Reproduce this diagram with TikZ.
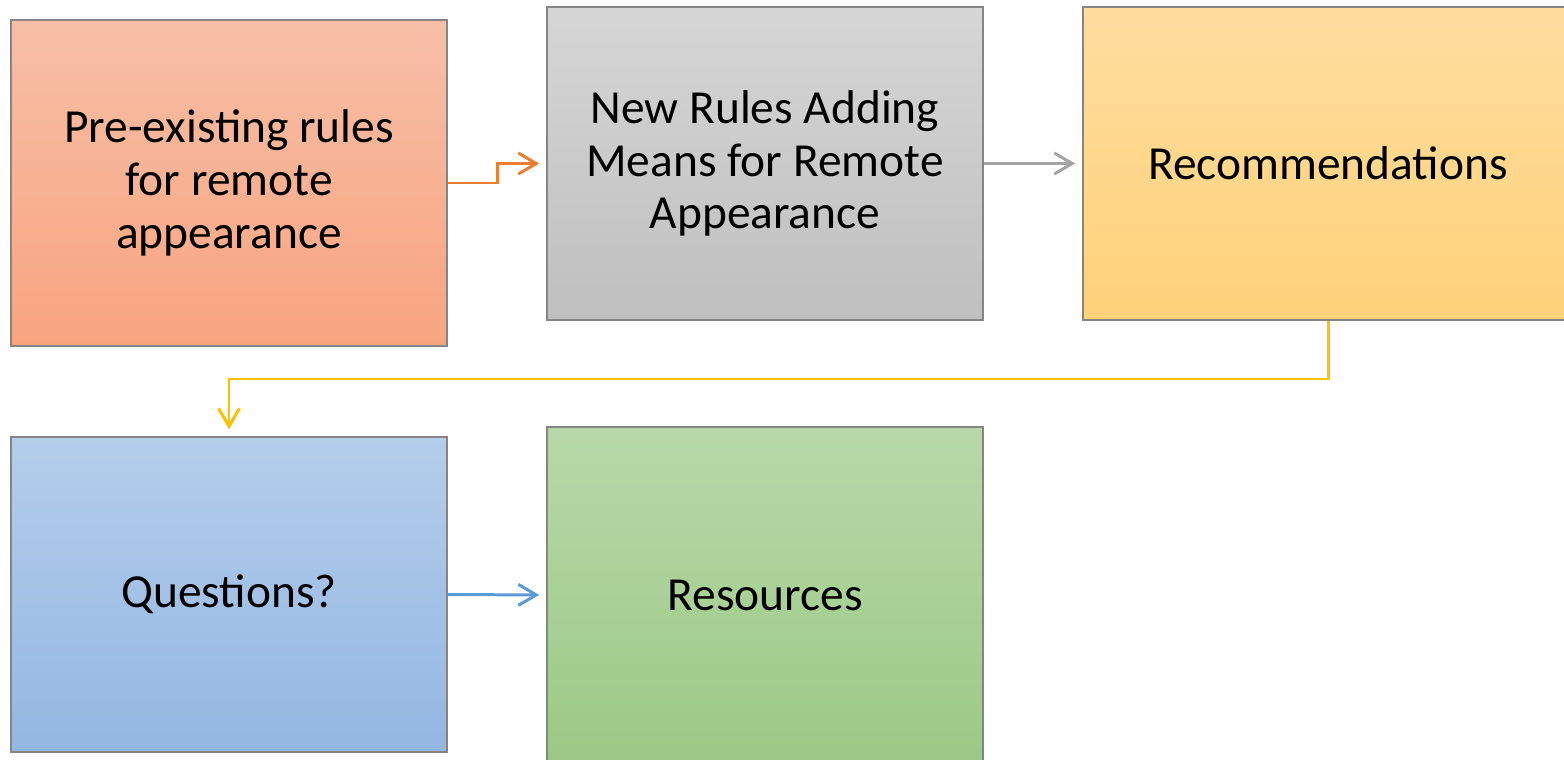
\documentclass[tikz,border=0pt]{standalone}
\usepackage{fontspec}
\setmainfont{Carlito}
\usetikzlibrary{arrows.meta}

\definecolor{orangeTop}{HTML}{F7BFA7}
\definecolor{orangeBot}{HTML}{F8A47F}
\definecolor{grayTop}{HTML}{D6D6D6}
\definecolor{grayBot}{HTML}{BFBFBF}
\definecolor{goldTop}{HTML}{FFDD9F}
\definecolor{goldBot}{HTML}{FFD27A}
\definecolor{blueTop}{HTML}{B4CDEB}
\definecolor{blueBot}{HTML}{93B7E2}
\definecolor{greenTop}{HTML}{B8D8A9}
\definecolor{greenBot}{HTML}{9BC985}
\definecolor{orangeLine}{HTML}{ED7D31}
\definecolor{grayLine}{HTML}{A5A5A5}
\definecolor{goldLine}{HTML}{FFC000}
\definecolor{blueLine}{HTML}{5B9BD5}
\definecolor{boxEdge}{HTML}{858585}

\tikzset{
  stagebox/.style={draw=boxEdge, line width=0.9pt, align=center, inner sep=0pt,
    font=\fontsize{27}{30}\selectfont},
  flowline/.style={line width=1.7pt, -{Straight Barb[length=0.36cm,width=0.42cm]}, shorten >=0.14cm}
}

\begin{document}
\begin{tikzpicture}[x=0.02cm, y=-0.02cm]
    \useasboundingbox (0,0) rectangle (1564,760); % picture frame
    \node [stagebox, top color=orangeTop, bottom color=orangeBot, minimum width=8.72cm, minimum height=6.52cm] (rules) at (229,183) {Pre-existing rules\\for remote\\appearance}; % first box
    \node [stagebox, top color=grayTop, bottom color=grayBot, minimum width=8.72cm, minimum height=6.26cm] (newrules) at (765,163.5) {New Rules Adding\\Means for Remote\\Appearance}; % second box
    \node [stagebox, top color=goldTop, bottom color=goldBot, minimum width=9.8cm, minimum height=6.26cm] (recs) at (1328,163.5) {Recommendations}; % third box
    \node [stagebox, top color=blueTop, bottom color=blueBot, minimum width=8.72cm, minimum height=6.3cm] (questions) at (229,594.5) {Questions?}; % fourth box
    \node [stagebox, top color=greenTop, bottom color=greenBot, minimum width=8.72cm, minimum height=6.72cm] (resources) at (765,595) {Resources}; % fifth box
    \draw [flowline, color=orangeLine] (rules.east) -- (497,183) |- (newrules.west); % stepped arrow
    \draw [flowline, color=grayLine] (newrules.east) -- (recs.west); % straight arrow
    \draw [flowline, color=goldLine] (recs.south) -- (1328,379) -| (questions.north); % long return arrow
    \draw [flowline, color=blueLine] (questions.east) -- (resources.west); % last arrow
\end{tikzpicture}
\end{document}
